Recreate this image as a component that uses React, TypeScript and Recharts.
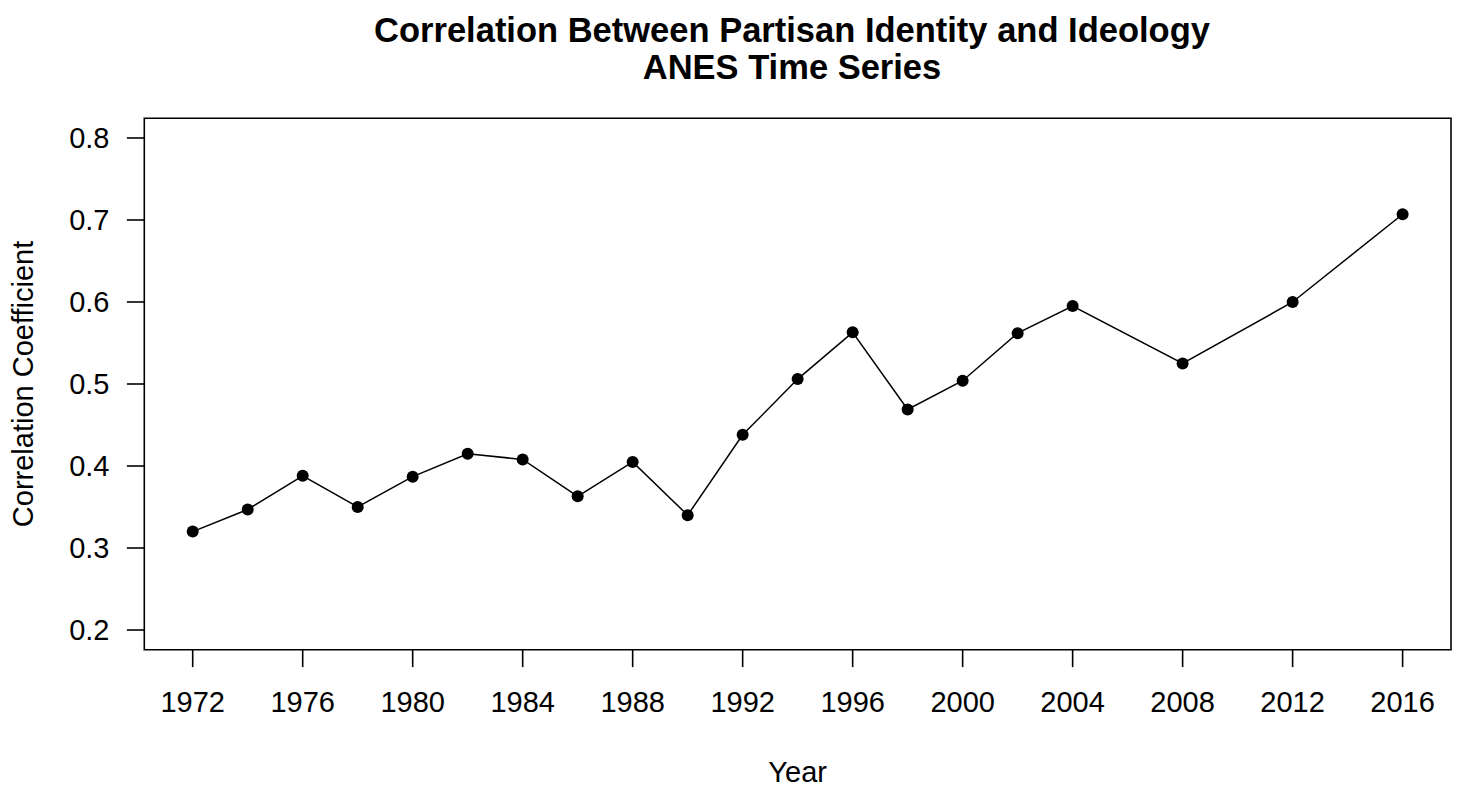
import React from 'react';
import { LineChart, Line, XAxis, YAxis, ReferenceArea } from 'recharts';

const years = [1972, 1974, 1976, 1978, 1980, 1982, 1984, 1986, 1988, 1990, 1992, 1994, 1996, 1998, 2000, 2002, 2004, 2008, 2012, 2016];
const correlation = [0.320, 0.347, 0.388, 0.350, 0.387, 0.415, 0.408, 0.363, 0.405, 0.340, 0.438, 0.506, 0.563, 0.469, 0.504, 0.562, 0.595, 0.525, 0.600, 0.707];
const yearTicks = [1972, 1976, 1980, 1984, 1988, 1992, 1996, 2000, 2004, 2008, 2012, 2016];
const coefTicks = [0.2, 0.3, 0.4, 0.5, 0.6, 0.7, 0.8];
const titleLines = ['Correlation Between Partisan Identity and Ideology', 'ANES Time Series'];
const xLabel = 'Year';
const yLabel = 'Correlation Coefficient';

const xDomain: [number, number] = [1970.24, 2017.76];
const yDomain: [number, number] = [0.176, 0.824];

const data = years.map((year, i) => ({ year, r: correlation[i] }));

const FONT = '"Liberation Sans", Arial, Helvetica, sans-serif';
const W = 1460;
const H = 787;
const PLOT_LEFT = 144.3;
const PLOT_RIGHT = 1451;
const PLOT_TOP = 118.3;
const PLOT_BOTTOM = 649.7;
const LINE = 34.8;

export default function App() {
  const titleX = 792;
  return (
    <div style={{ position: 'relative', width: W, height: H, background: '#fff' }}>
      <style>{'body{margin:0;background:#fff;}'}</style>
      <LineChart
        width={W}
        height={H}
        data={data}
        margin={{ top: PLOT_TOP, right: W - PLOT_RIGHT, bottom: 0, left: 0 }}
      >
        <XAxis
          dataKey="year"
          type="number"
          domain={xDomain}
          ticks={yearTicks}
          interval={0}
          allowDataOverflow
          height={H - PLOT_BOTTOM}
          axisLine={false}
          tickLine={{ stroke: '#000', strokeWidth: 1.6 }}
          tickSize={17.4}
          tickMargin={24.6}
          tick={{ fill: '#000', fontSize: 29, fontFamily: FONT }}
          tickFormatter={(v: number) => String(v)}
          label={(props: any) => {
            const vb = props.viewBox || { x: PLOT_LEFT, y: PLOT_BOTTOM, width: PLOT_RIGHT - PLOT_LEFT };
            return (
              <text
                x={vb.x + vb.width / 2}
                y={vb.y + 3.8 * LINE}
                textAnchor="middle"
                fontSize={29}
                fontFamily={FONT}
                fill="#000"
              >
                {xLabel}
              </text>
            );
          }}
        />
        <YAxis
          dataKey="r"
          type="number"
          domain={yDomain}
          ticks={coefTicks}
          interval={0}
          allowDataOverflow
          width={PLOT_LEFT}
          axisLine={false}
          tickLine={{ stroke: '#000', strokeWidth: 1.6 }}
          tickSize={17.4}
          tickMargin={17.4}
          tick={{ fill: '#000', fontSize: 29, fontFamily: FONT }}
          tickFormatter={(v: number) => v.toFixed(1)}
          label={(props: any) => {
            const vb = props.viewBox || { x: 0, y: PLOT_TOP, width: PLOT_LEFT, height: PLOT_BOTTOM - PLOT_TOP };
            const cx = vb.x + vb.width - 3.2 * LINE;
            const cy = vb.y + vb.height / 2;
            return (
              <text
                x={cx}
                y={cy}
                transform={`rotate(-90, ${cx}, ${cy})`}
                textAnchor="middle"
                fontSize={29}
                fontFamily={FONT}
                fill="#000"
              >
                {yLabel}
              </text>
            );
          }}
        />
        <ReferenceArea
          x1={xDomain[0]}
          x2={xDomain[1]}
          y1={yDomain[0]}
          y2={yDomain[1]}
          fill="none"
          fillOpacity={0}
          stroke="#000"
          strokeWidth={1.6}
          ifOverflow="visible"
        />
        <Line
          dataKey="r"
          type="linear"
          stroke="#000"
          strokeWidth={1.5}
          isAnimationActive={false}
          dot={{ r: 6, fill: '#000', stroke: '#000', strokeWidth: 0 }}
          activeDot={false}
        />
      </LineChart>
      <svg
        width={W}
        height={100}
        style={{ position: 'absolute', left: 0, top: 0, pointerEvents: 'none' }}
      >
        <text x={titleX} y={42} textAnchor="middle" fontSize={34.5} fontWeight="bold" fontFamily={FONT} fill="#000">
          {titleLines[0]}
        </text>
        <text x={titleX} y={79} textAnchor="middle" fontSize={34.5} fontWeight="bold" fontFamily={FONT} fill="#000">
          {titleLines[1]}
        </text>
      </svg>
    </div>
  );
}
